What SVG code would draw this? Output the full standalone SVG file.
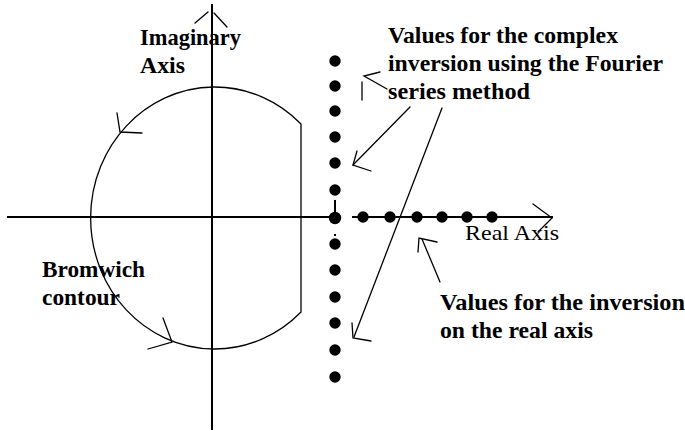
<svg xmlns="http://www.w3.org/2000/svg" width="685" height="431" viewBox="0 0 685 431">
<style>
.ax{stroke:#000;stroke-width:2;fill:none}
.th{stroke:#000;stroke-width:1.3;fill:none;stroke-linecap:round}
.dot{fill:#000}
.lb{font-family:"Liberation Serif","Times New Roman",serif;font-size:23px;font-weight:bold;fill:#000}
.lr{font-family:"Liberation Serif","Times New Roman",serif;font-size:22px;fill:#000}
</style>
<rect width="685" height="431" fill="#fff"/>
<g id="axes">
<line class="ax" x1="212" y1="4" x2="212" y2="430"/>
<line class="ax" x1="7" y1="217" x2="335" y2="217"/>
<line class="ax" x1="352" y1="217" x2="553" y2="217"/>
<line class="ax" x1="335" y1="200" x2="335" y2="217"/>
<polyline class="th" points="195,23 208,12"/>
<polyline class="th" points="214,13 227,27"/>
<polyline class="th" points="533,204 552,218 538,232"/>
</g>
<g id="contour">
<path class="th" d="M301,124 A124 131 0 1 0 301,312 Z"/>
<polyline class="th" points="117,113 120,132 142,133"/>
<polyline class="th" points="163,318 172,342 148,349"/>
</g>
<g id="dots">
<circle class="dot" cx="335" cy="61" r="5.7"/>
<circle class="dot" cx="335" cy="86" r="5.7"/>
<circle class="dot" cx="335" cy="111" r="5.7"/>
<circle class="dot" cx="335" cy="137" r="5.7"/>
<circle class="dot" cx="335" cy="163" r="5.7"/>
<circle class="dot" cx="335" cy="190" r="5.7"/>
<circle class="dot" cx="335" cy="218" r="6.2"/>
<circle class="dot" cx="335" cy="244" r="5.7"/>
<circle class="dot" cx="335" cy="270" r="5.7"/>
<circle class="dot" cx="335" cy="297" r="5.7"/>
<circle class="dot" cx="335" cy="323" r="5.7"/>
<circle class="dot" cx="335" cy="350" r="5.7"/>
<circle class="dot" cx="335" cy="377" r="5.7"/>
<rect class="dot" x="334" y="234" width="2" height="2"/>
<circle class="dot" cx="363" cy="217" r="5.7"/>
<circle class="dot" cx="390" cy="217" r="5.7"/>
<circle class="dot" cx="417" cy="217" r="5.7"/>
<circle class="dot" cx="442" cy="217" r="5.7"/>
<circle class="dot" cx="467" cy="217" r="5.7"/>
<circle class="dot" cx="492" cy="217" r="5.7"/>
</g>
<g id="connectors">
<line class="th" x1="410" y1="107" x2="353" y2="165"/>
<polyline class="th" points="357,151 353,165 371,171"/>
<line class="th" x1="442" y1="108" x2="354" y2="337"/>
<polyline class="th" points="352,323 353,338 371,341"/>
<polyline class="th" points="387,89 364,76 380,72"/>
<line class="th" x1="362" y1="82" x2="362" y2="100"/>
<line class="th" x1="440" y1="282" x2="422" y2="239"/>
<polyline class="th" points="418,252 419,238 437,242"/>
</g>
<g id="label-imaginary">
<text class="lb" x="140" y="45" textLength="101" lengthAdjust="spacingAndGlyphs">Imaginary</text>
<text class="lb" x="140" y="73" textLength="45" lengthAdjust="spacingAndGlyphs">Axis</text>
</g>
<g id="label-complex">
<text class="lb" x="388" y="43" textLength="230" lengthAdjust="spacingAndGlyphs">Values for the complex</text>
<text class="lb" x="388" y="71" textLength="275" lengthAdjust="spacingAndGlyphs">inversion using the Fourier</text>
<text class="lb" x="388" y="99" textLength="142" lengthAdjust="spacingAndGlyphs">series method</text>
</g>
<g id="label-real-axis">
<text class="lr" x="465" y="240" textLength="94" lengthAdjust="spacingAndGlyphs">Real Axis</text>
</g>
<g id="label-real-inversion">
<text class="lb" x="440" y="310" textLength="245" lengthAdjust="spacingAndGlyphs">Values for the inversion</text>
<text class="lb" x="440" y="338" textLength="153" lengthAdjust="spacingAndGlyphs">on the real axis</text>
</g>
<g id="label-bromwich">
<text class="lb" x="42" y="277" textLength="103" lengthAdjust="spacingAndGlyphs">Bromwich</text>
<text class="lb" x="42" y="305" textLength="78" lengthAdjust="spacingAndGlyphs">contour</text>
</g>
</svg>
